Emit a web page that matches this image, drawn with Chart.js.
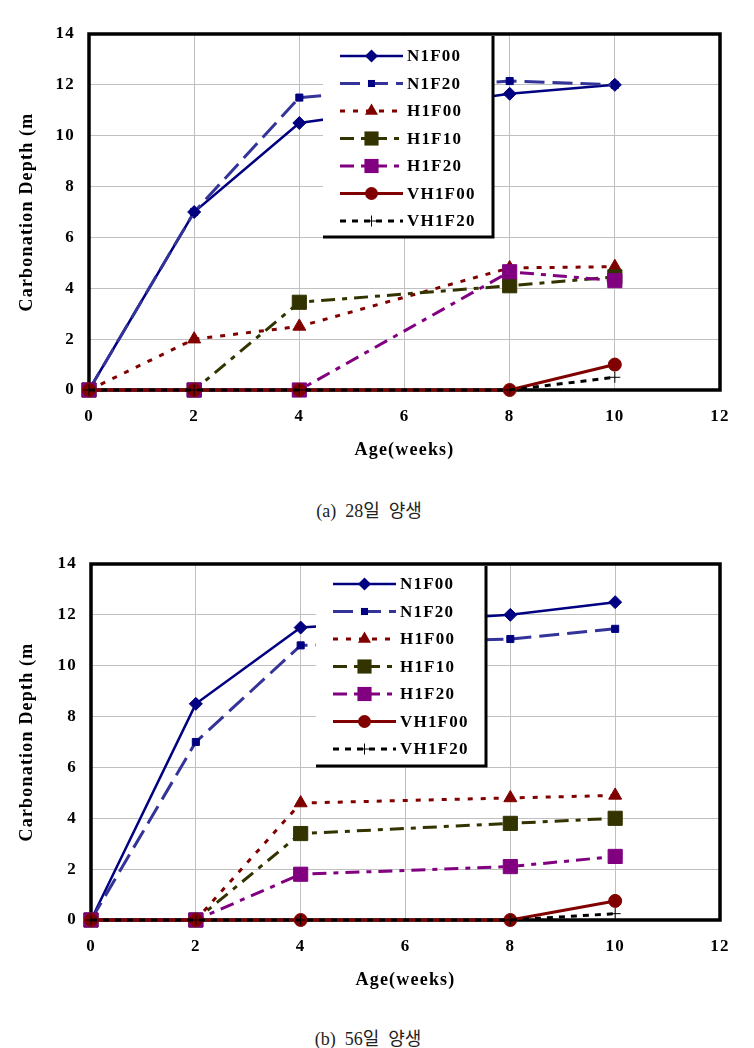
<!DOCTYPE html>
<html>
<head>
<meta charset="utf-8">
<script src="https://cdn.jsdelivr.net/npm/chart.js@4.4.1/dist/chart.umd.min.js"></script>
<style>
  body { margin: 0; background: #fff; width: 754px; height: 1048px; position: relative; overflow: hidden; }
  canvas { position: absolute; left: 0; }
  #c1 { top: 0; }
  #c2 { top: 530px; }
  .cap { position: absolute; width: 754px; text-align: center; white-space: pre; font: 18px "Liberation Serif", "Noto Sans CJK KR", serif; color: #222; }
</style>
</head>
<body>
<canvas id="c1" width="754" height="470"></canvas>
<div class="cap" style="left:-8px; top:496px;">(a)  28일  양생</div>
<canvas id="c2" width="754" height="470"></canvas>
<div class="cap" style="left:-9px; top:1024px;">(b)  56일  양생</div>
<script>
// datos
const weeks = [0, 2, 4, 8, 10];
const seriesNames = ['N1F00', 'N1F20', 'H1F00', 'H1F10', 'H1F20', 'VH1F00', 'VH1F20'];
const yTicks = [0, 2, 4, 6, 8, 10, 12, 14];
const xTicks = [0, 2, 4, 6, 8, 10, 12];

// (a) 28일 양생
const n1f00_28 = [0, 7.0, 10.5, 11.65, 12.0];
const n1f20_28 = [0, 7.0, 11.5, 12.15, 12.0];
const h1f00_28 = [0, 2.0, 2.5, 4.8, 4.85];
const h1f10_28 = [0, 0, 3.45, 4.1, 4.45];
const h1f20_28 = [0, 0, 0, 4.65, 4.3];
const vh1f00_28 = [0, 0, 0, 0, 1.0];
const vh1f20_28 = [0, 0, 0, 0, 0.5];

// (b) 56일 양생
const n1f00_56 = [0, 8.5, 11.5, 12.0, 12.5];
const n1f20_56 = [0, 7.0, 10.8, 11.05, 11.45];
const h1f00_56 = [0, 0, 4.6, 4.8, 4.9];
const h1f10_56 = [0, 0, 3.4, 3.8, 4.0];
const h1f20_56 = [0, 0, 1.8, 2.1, 2.5];
const vh1f00_56 = [0, 0, 0, 0, 0.75];
const vh1f20_56 = [0, 0, 0, 0, 0.25];

// estilos de cada serie
const estilos = [
  { line: '#000080', fill: '#000080', dash: [], width: 2.5, marker: 'rectRot', r: 6.5 },
  { line: '#333399', fill: '#000080', dash: [20, 8], width: 3, marker: 'rect', r: 5 },
  { line: '#800000', fill: '#800000', dash: [5, 8], width: 3, marker: 'triangle', r: 7.5 },
  { line: '#333300', fill: '#333300', dash: [14, 7, 5, 7], width: 3, marker: 'rect', r: 10 },
  { line: '#800080', fill: '#800080', dash: [14, 7, 5, 7], width: 3, marker: 'rect', r: 10 },
  { line: '#800000', fill: '#800000', dash: [], width: 3, marker: 'circle', r: 6.5 },
  { line: '#000000', fill: '#000000', dash: [6, 6], width: 3, marker: 'cross', r: 5.5 }
];

const fuente = 'bold 17px "Liberation Serif", "Times New Roman", serif';

function dibujarMarcador(ctx, tipo, x, y, r, color) {
  ctx.save();
  ctx.setLineDash([]);
  ctx.fillStyle = color;
  ctx.strokeStyle = color;
  ctx.lineWidth = 1;
  ctx.beginPath();
  if (tipo === 'rectRot') {
    ctx.moveTo(x, y - r); ctx.lineTo(x + r, y); ctx.lineTo(x, y + r); ctx.lineTo(x - r, y); ctx.closePath(); ctx.fill();
  } else if (tipo === 'rect') {
    const s = r * Math.SQRT1_2;
    ctx.rect(x - s, y - s, 2 * s, 2 * s); ctx.fill();
  } else if (tipo === 'triangle') {
    const w = r * Math.sqrt(3) / 2;
    ctx.moveTo(x, y - r); ctx.lineTo(x + w, y + r / 2); ctx.lineTo(x - w, y + r / 2); ctx.closePath(); ctx.fill();
  } else if (tipo === 'circle') {
    ctx.arc(x, y, r, 0, Math.PI * 2); ctx.fill();
  } else if (tipo === 'cross') {
    ctx.moveTo(x - r, y); ctx.lineTo(x + r, y); ctx.moveTo(x, y - r); ctx.lineTo(x, y + r); ctx.stroke();
  }
  ctx.restore();
}

// plugin: marco, leyenda y espaciado de letras
const marcoLeyenda = {
  id: 'marcoLeyenda',
  beforeLayout(chart) { chart.ctx.letterSpacing = '1.2px'; },
  beforeDraw(chart) { chart.ctx.letterSpacing = '1.2px'; },
  beforeDatasetsDraw(chart) {
    const { ctx, chartArea: a } = chart;
    ctx.save();
    ctx.strokeStyle = '#000';
    ctx.lineWidth = 3.5;
    ctx.strokeRect(a.left, a.top, a.right - a.left, a.bottom - a.top);
    ctx.restore();
  },
  afterDatasetsDraw(chart, args, opts) {
    const { ctx, chartArea: a } = chart;
    ctx.save();
    ctx.fillStyle = '#fff';
    ctx.fillRect(opts.left, a.top + 2, opts.right - opts.left, opts.bottom - a.top - 2);
    ctx.strokeStyle = '#000';
    ctx.lineWidth = 3;
    ctx.beginPath();
    ctx.moveTo(opts.right, a.top + 2);
    ctx.lineTo(opts.right, opts.bottom);
    ctx.lineTo(opts.left, opts.bottom);
    ctx.stroke();

    ctx.font = fuente;
    ctx.letterSpacing = '1.2px';
    ctx.textBaseline = 'middle';
    ctx.textAlign = 'left';
    chart.data.datasets.forEach((ds, i) => {
      const e = estilos[i];
      const y = a.top + opts.firstRow + i * opts.rowGap;
      const x0 = opts.left + 17, x1 = x0 + 63;
      ctx.save();
      ctx.strokeStyle = e.line;
      ctx.lineWidth = e.width;
      ctx.setLineDash(e.dash);
      ctx.beginPath();
      ctx.moveTo(x0, y);
      ctx.lineTo(x1, y);
      ctx.stroke();
      ctx.restore();
      dibujarMarcador(ctx, e.marker, (x0 + x1) / 2, y, e.r, e.fill);
      ctx.fillStyle = '#000';
      ctx.fillText(ds.label, opts.left + 84, y + 1);
    });
    ctx.restore();
  }
};

function crearGrafica(id, valores, leyenda, anchoEjeY) {
  const datasets = valores.map((serie, i) => {
    const e = estilos[i];
    return {
      label: seriesNames[i],
      data: weeks.map((w, k) => ({ x: w, y: serie[k] })),
      borderColor: e.line,
      backgroundColor: e.fill,
      borderWidth: e.width,
      borderDash: e.dash,
      pointStyle: e.marker,
      pointRadius: e.r,
      pointBackgroundColor: e.fill,
      pointBorderColor: e.fill,
      pointBorderWidth: 1,
      tension: 0,
      clip: false,
      order: seriesNames.length - 1 - i
    };
  });

  return new Chart(document.getElementById(id), {
    type: 'line',
    data: { datasets },
    plugins: [marcoLeyenda],
    options: {
      responsive: false,
      animation: false,
      layout: { padding: { top: 34, right: 34, left: 0, bottom: 0 } },
      plugins: {
        legend: { display: false },
        tooltip: { enabled: false },
        marcoLeyenda: leyenda
      },
      scales: {
        x: {
          type: 'linear', min: 0, max: 12,
          afterBuildTicks: s => { s.ticks = xTicks.map(v => ({ value: v })); },
          afterFit: s => { s.height = 80; },
          grid: { color: '#c0c0c0', lineWidth: 1, drawTicks: false },
          border: { display: false },
          ticks: { padding: 16, color: '#000', font: { family: '"Liberation Serif", serif', size: 17, weight: 'bold' } },
          title: { display: true, text: 'Age(weeks)', color: '#000', padding: { top: 0, bottom: 9 },
                   font: { family: '"Liberation Serif", serif', size: 18, weight: 'bold' } }
        },
        y: {
          min: 0, max: 14,
          afterBuildTicks: s => { s.ticks = yTicks.map(v => ({ value: v })); },
          afterFit: s => { s.width = anchoEjeY; },
          grid: { color: '#c0c0c0', lineWidth: 1, drawTicks: false },
          border: { display: false },
          ticks: { padding: 14, color: '#000', font: { family: '"Liberation Serif", serif', size: 17, weight: 'bold' } },
          title: { display: true, text: 'Carbonation Depth (m', color: '#000', padding: { top: 17, bottom: 0 },
                   font: { family: '"Liberation Serif", serif', size: 18, weight: 'bold' } }
        }
      }
    }
  });
}

crearGrafica('c1',
  [n1f00_28, n1f20_28, h1f00_28, h1f10_28, h1f20_28, vh1f00_28, vh1f20_28],
  { left: 323, right: 493, bottom: 237, firstRow: 22, rowGap: 27.5 }, 89);

crearGrafica('c2',
  [n1f00_56, n1f20_56, h1f00_56, h1f10_56, h1f20_56, vh1f00_56, vh1f20_56],
  { left: 316, right: 486, bottom: 236, firstRow: 20, rowGap: 27.5 }, 91);
</script>
</body>
</html>
